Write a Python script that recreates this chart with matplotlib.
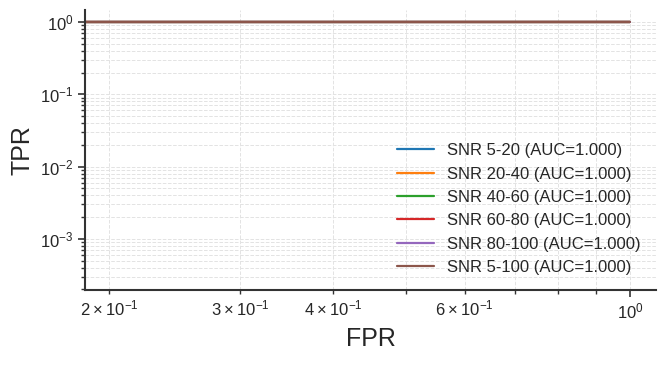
import matplotlib

matplotlib.use("Agg")
import matplotlib.pyplot as plt
import seaborn as sns

sns.set_theme(style="ticks")
plt.rcParams["font.family"] = ["Liberation Sans", "DejaVu Sans"]

# ROC points per SNR bin (all perfect classifiers)
LABELS = ["SNR 5-20", "SNR 20-40", "SNR 40-60", "SNR 60-80", "SNR 80-100", "SNR 5-100"]
AUCS = [1.000, 1.000, 1.000, 1.000, 1.000, 1.000]
FPR = [0.0, 0.0, 0.2, 1.0]
TPR = [0.0, 3e-4, 1.0, 1.0]
COLORS = ["#1f77b4", "#ff7f0e", "#2ca02c", "#d62728", "#9467bd", "#8c564b"]

fig = plt.figure(figsize=(6.66, 3.66), dpi=100)
ax = fig.add_axes([0.128, 0.208, 0.857, 0.765])

for label, auc, color in zip(LABELS, AUCS, COLORS):
    ax.plot(FPR, TPR, color=color, lw=1.6, label=f"{label} (AUC={auc:.3f})")

ax.set_xscale("log")
ax.set_yscale("log")
ax.set_xlim(0.1857, 1.084)
ax.set_ylim(1.97e-4, 1.47)

ax.grid(True, which="both", ls="--", lw=0.7, color="#e3e3e3")
ax.set_axisbelow(True)
ax.set_xlabel("FPR", fontsize=18)
ax.set_ylabel("TPR", fontsize=18)
ax.tick_params(which="major", labelsize=12, length=5, width=1.2, color="#333333")
ax.tick_params(which="minor", labelsize=12, length=3, width=1.0, color="#333333")
for side in ["left", "bottom"]:
    ax.spines[side].set_color("#333333")
    ax.spines[side].set_linewidth(1.5)
sns.despine(ax=ax)

ax.legend(loc="lower right", fontsize=12, frameon=False, handlelength=2.2,
          labelspacing=0.5, borderaxespad=0.5)

fig.savefig("out.png", dpi=100)
